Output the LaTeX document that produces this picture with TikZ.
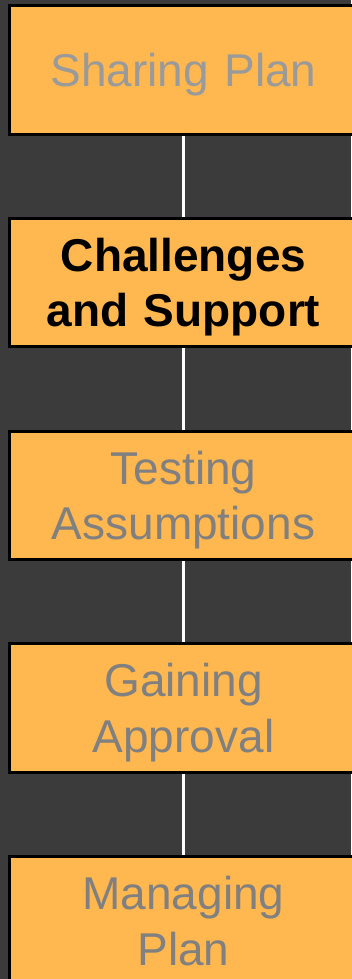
\documentclass[tikz,border=0pt]{standalone}
\usepackage{fontspec}
\setmainfont{Liberation Sans}
\definecolor{bgdark}{HTML}{3B3B3B}
\definecolor{boxorange}{HTML}{FFB74F}
\definecolor{mutedA}{HTML}{9A9A9A}
\definecolor{mutedB}{HTML}{808080}
\tikzset{
  x=1pt, y=-1pt,
  stage/.style={draw=black, line width=3pt, fill=boxorange, rectangle,
    minimum width=348pt, minimum height=128.5pt, inner sep=0pt,
    align=center, text width=340pt, text depth=0pt,
    font=\fontsize{46}{55.5}\selectfont},
  twoline/.style={text depth=55.5pt},
  faded/.style={text=mutedB},
  current/.style={text=black, font=\fontsize{46}{55.5}\selectfont\bfseries},
  link/.style={draw=white, line width=3pt}
}
\begin{document}
\begin{tikzpicture}
  \fill[bgdark] (0,0) rectangle (351,979);
  \useasboundingbox (0,0) rectangle (351,979);
  % stage boxes, evenly spaced down the column
  \node[stage, text=mutedA]      (s1) at (183.5, 69.75) {Sharing Plan};
  \node[stage, twoline, current] (s2) at (183.5, 282.5) {Challenges\\and Support};
  \node[stage, twoline, faded]   (s3) at (183.5, 495.25) {Testing\\Assumptions};
  \node[stage, twoline, faded]   (s4) at (183.5, 708.0) {Gaining\\Approval};
  \node[stage, twoline, faded]   (s5) at (183.5, 920.75) {Managing\\Plan};
  % vertical links between stages
  \draw[link] (s1.south) -- (s2.north);
  \draw[link] (s2.south) -- (s3.north);
  \draw[link] (s3.south) -- (s4.north);
  \draw[link] (s4.south) -- (s5.north);
\end{tikzpicture}
\end{document}
